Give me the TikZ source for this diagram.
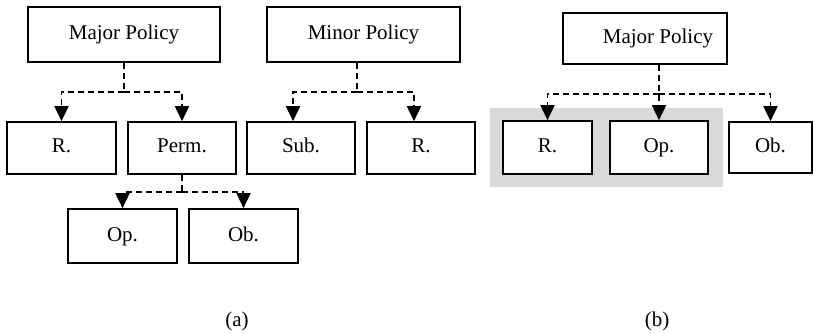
\documentclass[tikz,border=0pt]{standalone}
\usepackage{fontspec}
\setmainfont{Liberation Serif}
\usetikzlibrary{arrows.meta}
\begin{document}
\begin{tikzpicture}[x=1pt,y=-1pt,
  box/.style={draw=black,line width=1.7pt,fill=white,inner sep=0pt,text height=14.5pt,text depth=4.5pt,font=\fontsize{21}{25}\selectfont},
  conn/.style={line width=1.9pt,dash pattern=on 6pt off 4pt},
  arr/.style={conn,-{Triangle[width=14pt,length=15pt]}},
  captext/.style={font=\fontsize{21}{25}\selectfont}]
\useasboundingbox (0,0) rectangle (814,334);
% (a)
\node[box,minimum width=192pt,minimum height=55pt] (mp1) at (124,34.5) {Major Policy};
\node[box,minimum width=193pt,minimum height=55pt] (mip) at (363.5,34.5) {Minor Policy};
\node[box,minimum width=109pt,minimum height=52pt] (r1) at (61.5,148) {R.};
\node[box,minimum width=108pt,minimum height=52pt] (perm) at (182,148) {Perm.};
\node[box,minimum width=108pt,minimum height=52pt] (sub) at (301,148) {Sub.};
\node[box,minimum width=108pt,minimum height=52pt] (r2) at (421,148) {R.};
\node[box,minimum width=109pt,minimum height=54pt] (op1) at (122.5,236) {Op.};
\node[box,minimum width=109pt,minimum height=54pt] (ob1) at (243.5,236) {Ob.};
\coordinate (j1) at (124,92);
\draw[conn] (mp1.south) -- (j1);
\draw[arr] (j1) -| (r1.north);
\draw[arr] (j1) -| (perm.north);
\coordinate (j2) at (357,92);
\draw[conn] ([xshift=-6.5pt]mip.south) -- (j2);
\draw[arr] (j2) -| ([xshift=-8pt]sub.north);
\draw[arr] (j2) -| ([xshift=-7pt]r2.north);
\coordinate (j3) at (182,192);
\draw[conn] (perm.south) -- (j3);
\draw[arr] (j3) -| (op1.north);
\draw[arr] (j3) -| (ob1.north);
\node[captext] (capa) at (237,321) {(a)};
% (b)
\fill[fill=black!15] (490,108) rectangle (723,187);
\node[box,minimum width=164pt,minimum height=51pt] (mp2) at (645,38.5) {};
\node[font=\fontsize{21}{25}\selectfont,inner sep=0pt,text height=14.5pt,text depth=4.5pt] (mp2t) at (658,38.5) {Major Policy};
\node[box,minimum width=89pt,minimum height=53pt] (r3) at (547.5,147.5) {R.};
\node[box,minimum width=98pt,minimum height=53pt] (op2) at (659,147.5) {Op.};
\node[box,minimum width=83pt,minimum height=51pt] (ob2) at (770.5,147.5) {Ob.};
\coordinate (j4) at (659,94);
\draw[arr] ([xshift=14pt]mp2.south) -- (op2.north);
\draw[arr] (j4) -| (r3.north);
\draw[arr] (j4) -| (ob2.north);
\node[captext] (capb) at (657,321) {(b)};
\end{tikzpicture}
\end{document}
